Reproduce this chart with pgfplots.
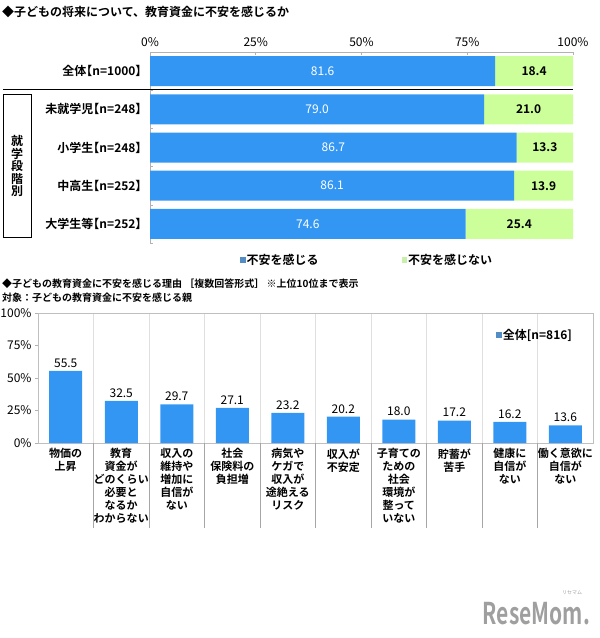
\documentclass[border=0pt]{standalone}
\usepackage{fontspec}
\setmainfont{Noto Sans CJK JP}[BoldFont=* Bold]
\newfontfamily\jph{Noto Sans CJK JP}[BoldFont=* Bold, RawFeature=+halt]
\usepackage{pgfplots}
\usepackage{pgfplotstable}
\pgfplotsset{compat=1.18}

\definecolor{barblue}{RGB}{52,150,243}
\definecolor{bargreen}{RGB}{204,255,153}
\definecolor{legblue}{RGB}{84,141,196}
\definecolor{leggreen}{RGB}{200,240,170}
\newcommand{\fs}[2]{\fontsize{#1bp}{#2bp}\selectfont}

% 不安を感じる / 不安を感じない (%)
\pgfplotstableread{
cat yes  no
0   81.6 18.4
1   79.0 21.0
2   86.7 13.3
3   86.1 13.9
4   74.6 25.4
}\anxiety

% 不安を感じる理由 (%), n=816
\pgfplotstableread{
idx val
0   55.5
1   32.5
2   29.7
3   27.1
4   23.2
5   20.2
6   18.0
7   17.2
8   16.2
9   13.6
}\reasons

\begin{document}
\begin{tikzpicture}
\useasboundingbox (0,0) rectangle (600bp,-638bp);

% titles
\node[anchor=west, inner sep=0, font=\bfseries\fs{12}{14}] at (2bp,-12bp)
  {◆子どもの将来について、教育資金に不安を感じるか};
\node[anchor=west, inner sep=0, font=\bfseries\fs{10}{12}] at (2bp,-284bp)
  {◆子どもの教育資金に不安を感じる理由 ［複数回答形式］ ※上位10位まで表示};
\node[anchor=west, inner sep=0, font=\bfseries\fs{10}{12}] at (2bp,-298bp)
  {対象：子どもの教育資金に不安を感じる親};

% top chart
\begin{axis}[
  at={(150bp,-52bp)}, anchor=north west,
  scale only axis, width=423bp, height=191bp,
  xbar stacked, bar width=30bp,
  xmin=0, xmax=100, ymin=-0.5, ymax=4.5, y dir=reverse,
  axis x line*=top, axis y line*=left,
  axis line style={gray!60, line width=0.6bp},
  tick style={gray!60, line width=0.6bp},
  major tick length=3bp, minor tick length=3bp,
  xtick={0,25,50,75,100},
  xticklabel={\pgfmathprintnumber{\tick}\%},
  /pgf/number format/assume math mode=true,
  xticklabel style={font=\fs{12}{14}, yshift=2bp},
  ytick={0,1,2,3,4},
  yticklabels={{全体【n=1000】},{未就学児【n=248】},{小学生【n=248】},{中高生【n=252】},{大学生等【n=252】}},
  yticklabel style={font=\jph\bfseries\fs{12}{14}, xshift=-5bp},
  every major y tick/.append style={draw=none},
  minor ytick={0.5,1.5,2.5,3.5,4.5},
  legend columns=2,
  legend style={draw=none, fill=none, at={(0.205,-0.09)}, anchor=west,
    font=\bfseries\fs{12}{14}, nodes={inner sep=1bp},
    /tikz/every even column/.append style={column sep=82bp}},
  legend image code/.code={\fill[#1, draw=none] (0bp,-2.8bp) rectangle (5.6bp,2.8bp);},
]
\addplot[fill=barblue, draw=none, legend image post style={fill=legblue}]
  table[x=yes, y=cat] {\anxiety};
\addlegendentry{不安を感じる}
\addplot[fill=bargreen, draw=none, legend image post style={fill=leggreen}]
  table[x=no, y=cat] {\anxiety};
\addlegendentry{不安を感じない}
\end{axis}

% value labels of the top chart
\begin{axis}[
  at={(150bp,-52bp)}, anchor=north west,
  scale only axis, width=423bp, height=191bp,
  xmin=0, xmax=100, ymin=-0.5, ymax=4.5, y dir=reverse,
  hide axis, clip=false,
  /pgf/number format/assume math mode=true,
]
\addplot[draw=none, point meta=explicit,
  nodes near coords={\pgfmathprintnumber[fixed,fixed zerofill,precision=1,assume math mode=true]{\pgfplotspointmeta}},
  every node near coord/.append style={anchor=center, text=white, font=\fs{12}{14}}]
  table[x expr=\thisrow{yes}/2, y=cat, meta=yes] {\anxiety};
\addplot[draw=none, point meta=explicit,
  nodes near coords={\pgfmathprintnumber[fixed,fixed zerofill,precision=1,assume math mode=true]{\pgfplotspointmeta}},
  every node near coord/.append style={anchor=center, text=black, font=\bfseries\fs{12}{14}}]
  table[x expr=\thisrow{yes}+\thisrow{no}/2, y=cat, meta=no] {\anxiety};
\end{axis}

% separator and group box
\draw[black, line width=0.8bp] (3bp,-89bp) -- (573bp,-89bp);
\draw[black, line width=0.8bp] (3bp,-94bp) rectangle (31bp,-237bp);
\node[align=center, inner sep=0, font=\bfseries\fs{12}{12.5}] at (17bp,-166bp)
  {就\\学\\段\\階\\別};

% bottom chart
\begin{axis}[
  at={(38bp,-443bp)}, anchor=south west,
  scale only axis, width=555bp, height=130bp,
  ybar, bar width=33bp,
  xmin=-0.5, xmax=9.5, ymin=0, ymax=100,
  axis line style={gray!50, line width=0.6bp},
  tick style={gray!60, line width=0.6bp},
  major tick length=3bp, minor tick length=0pt,
  tick align=outside,
  ytick={0,25,50,75,100},
  yticklabel={\pgfmathprintnumber{\tick}\%},
  /pgf/number format/assume math mode=true,
  yticklabel style={font=\fs{12}{14}},
  ytick pos=left,
  xtick={0,...,9},
  every major x tick/.append style={draw=none},
  xticklabels={{物価の\\上昇},{教育\\資金が\\どのくらい\\必要と\\なるか\\わからない},
    {収入の\\維持や\\増加に\\自信が\\ない},{社会\\保険料の\\負担増},
    {病気や\\ケガで\\収入が\\途絶える\\リスク},{収入が\\不安定},
    {子育ての\\ための\\社会\\環境が\\整って\\いない},{貯蓄が\\苦手},
    {健康に\\自信が\\ない},{働く意欲に\\自信が\\ない}},
  xticklabel style={align=center, font=\bfseries\fs{11}{13}, anchor=north, yshift=1bp},
  minor xtick={0.5,1.5,...,8.5},
  xminorgrids, minor grid style={gray!25, line width=0.6bp},
  nodes near coords={\pgfmathprintnumber[fixed,fixed zerofill,precision=1]{\pgfplotspointmeta}},
  every node near coord/.append style={font=\fs{12}{14}, text=black},
  legend style={draw=none, fill=none, at={(0.82,0.83)}, anchor=west,
    font=\jph\bfseries\fs{12}{14}, nodes={inner sep=1bp}},
  legend image code/.code={\fill[#1, draw=none] (0bp,-2.8bp) rectangle (5.6bp,2.8bp);},
]
\addplot[fill=barblue, draw=none, legend image post style={fill=legblue}]
  table[x=idx, y=val] {\reasons};
\addlegendentry{全体[n=816]}
\end{axis}

% separators below the bottom chart
\foreach \k in {1,...,9}
  \draw[gray!70, line width=0.6bp] ({(38+55.5*\k)*1bp},-443bp) -- ++(0,-85bp);

% watermark
\node[anchor=east, inner sep=0, text=gray!75, font=\bfseries\fs{30}{30}, xscale=0.7]
  at (590bp,-614bp) {ReseMom.};
\node[inner sep=0, text=gray!75, font=\fs{5}{5}] at (572bp,-593bp) {リセマム};
\end{tikzpicture}
\end{document}
